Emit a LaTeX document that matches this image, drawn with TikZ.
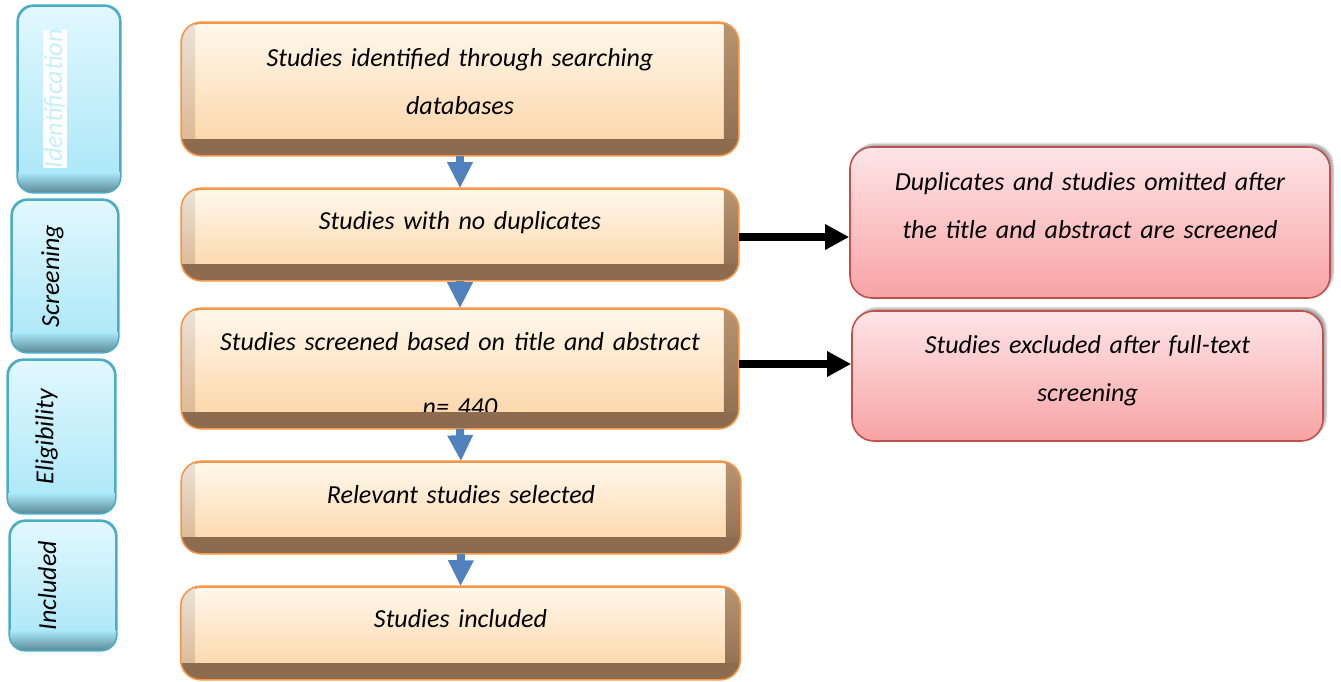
\documentclass[tikz,border=0pt]{standalone}
\usepackage{fontspec}
\setmainfont{Carlito}
\usetikzlibrary{positioning, arrows.meta, shadows.blur}

\definecolor{oedge}{HTML}{F79646}
\definecolor{otop}{HTML}{FFF8EC}
\definecolor{obot}{HTML}{FCD3A3}
\definecolor{obrown}{HTML}{8C6B4F}
\definecolor{bedge}{HTML}{4BACC6}
\definecolor{btop}{HTML}{E2F8FE}
\definecolor{bbot}{HTML}{A8E6F7}
\definecolor{bdark}{HTML}{5B8995}
\definecolor{redge}{HTML}{C0504D}
\definecolor{rtop}{HTML}{FEE5E7}
\definecolor{rbot}{HTML}{F8A3A5}
\definecolor{arrowblue}{HTML}{4F81BD}
\definecolor{identtxt}{HTML}{C6EFFA}

% struts: height on top, depth at the bottom
\newcommand{\hs}[1]{\rule{0pt}{#1pt}}
\newcommand{\ds}[1]{\rule[-#1pt]{0pt}{#1pt}}

\tikzset{
  every node/.style={font=\itshape\fontsize{26}{48}\selectfont},
  stagebox/.style={draw=oedge, line width=1.6pt, rounded corners=20pt,
    top color=otop, bottom color=obot, text width=540pt, align=center},
  sidebox/.style={draw=bedge, line width=1.6pt, rounded corners=16pt,
    top color=btop, bottom color=bbot, inner sep=0pt},
  outbox/.style={draw=redge, line width=1.6pt, rounded corners=22pt,
    top color=rtop, bottom color=rbot, text width=440pt, align=center,
    blur shadow={shadow xshift=3pt, shadow yshift=3pt, shadow blur steps=6, shadow opacity=35}},
  downarrow/.style={draw=arrowblue, line width=8pt, -{Triangle[width=24pt,length=26pt]}},
  sidearrow/.style={draw=black, line width=7.5pt, -{Triangle[width=24pt,length=24pt]}}
}

\begin{document}
\begin{tikzpicture}[x=1pt, y=-1pt]
  \useasboundingbox (0,0) rectangle (1341,681);

  % stages on the left
  \node[sidebox, minimum width=102pt, minimum height=186pt] (ident) at (69,99)
    {\rotatebox{90}{\hs{20}\ds{34}{\setlength{\fboxsep}{0pt}\colorbox{white}{\color{identtxt}\rule[-5pt]{0pt}{24pt}Identification}}}};
  \node[sidebox, minimum width=106pt, minimum height=152pt] (scr) at (65,276)
    {\rotatebox{90}{\hs{20}\ds{32}Screening}};
  \node[sidebox, minimum width=107pt, minimum height=153pt] (elig) at (61.5,436.5)
    {\rotatebox{90}{\hs{20}\ds{36}Eligibility}};
  \node[sidebox, minimum width=106pt, minimum height=129pt] (inc) at (63,585.5)
    {\rotatebox{90}{\hs{20}\ds{34}Included}};

  \foreach \b in {ident,scr,elig,inc}{
    \begin{scope}
      \clip[rounded corners=16pt] (\b.south west) rectangle (\b.north east);
      \shade[top color=bbot, bottom color=bdark] ([yshift=20pt]\b.south west) rectangle (\b.south east);
    \end{scope}
    \draw[bedge, line width=1.6pt, rounded corners=16pt] (\b.south west) rectangle (\b.north east);
  }

  % main flow
  \node[stagebox, minimum width=556pt, minimum height=132pt] (search) at (460,89)
    {\hs{20}Studies identified through searching\\databases\ds{18}};
  \node[stagebox, minimum width=556pt, minimum height=91pt] (nodup) at (460,234.5)
    {\hs{20}Studies with no duplicates\ds{31}};
  \node[stagebox, minimum width=556pt, minimum height=119pt] (screen) at (460,368.5)
    {\hs{30}Studies screened based on title and abstract\\[17pt]n= 440};
  \node[stagebox, minimum width=558pt, minimum height=91pt] (relevant) at (461,507.5)
    {\hs{20}Relevant studies selected\ds{29}};
  \node[stagebox, minimum width=558pt, minimum height=92pt] (included) at (460.5,633)
    {\hs{20}Studies included\ds{32}};

  % bevels on top of the boxes
  \foreach \b in {search,nodup,screen,relevant,included}{
    \begin{scope}
      \clip[rounded corners=20pt] (\b.south west) rectangle (\b.north east);
      \shade[top color=otop!60!obrown!45, bottom color=obot!70!obrown] (\b.north west) rectangle ([xshift=14pt]\b.south west);
      \shade[top color=obot!40!obrown, bottom color=obrown] ([xshift=-15pt]\b.north east) rectangle (\b.south east);
      \fill[obrown] ([yshift=17pt]\b.south west) rectangle (\b.south east);
    \end{scope}
    \draw[oedge, line width=1.6pt, rounded corners=20pt] (\b.south west) rectangle (\b.north east);
  }

  % excluded records
  \node[outbox, minimum width=480pt, minimum height=151pt] (dups) at (1090,222.5)
    {\hs{20}Duplicates and studies omitted after\\the title and abstract are screened\ds{36}};
  \node[outbox, minimum width=471pt, minimum height=130pt] (fulltext) at (1087.5,376)
    {\hs{20}Studies excluded after full-text\\screening\ds{18}};

  % arrows
  \draw[downarrow] (search.south) -- (nodup.north);
  \draw[downarrow] (nodup.south) -- (screen.north);
  \draw[downarrow] (screen.south) -- (relevant.north);
  \draw[downarrow] (relevant.south) -- (included.north);

  \coordinate (k1) at ([yshift=-2.5pt]nodup.east);
  \coordinate (k2) at ([yshift=4.5pt]screen.east);
  \draw[sidearrow] (k1) -- (k1 -| dups.west);
  \draw[sidearrow] (k2) -- (k2 -| fulltext.west);
\end{tikzpicture}
\end{document}
